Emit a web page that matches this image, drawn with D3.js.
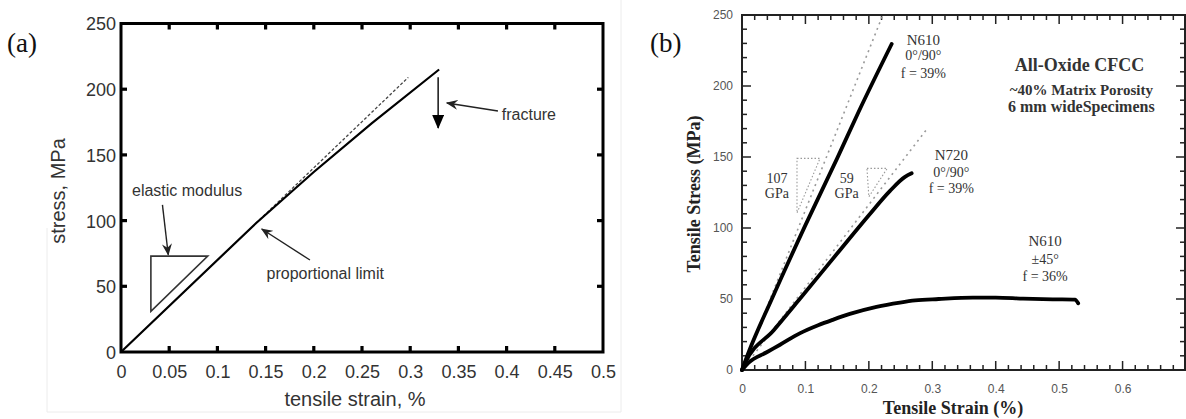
<!DOCTYPE html>
<html>
<head>
<meta charset="utf-8">
<script src="https://cdn.jsdelivr.net/npm/d3@7"></script>
<style>
  html, body { margin: 0; padding: 0; background: #fff; }
  svg { display: block; }
</style>
</head>
<body>
<svg id="chart" width="1186" height="419"></svg>
<script>
// ---------------- DATA ----------------
// Panel (a): idealised stress-strain curve
const aCurveStrain = [0, 0.14, 0.2, 0.26, 0.33];
const aCurveStress = [0, 98, 137, 174, 215];
const aElasticStrain = [0.14, 0.298];
const aElasticStress = [98, 209];
const aTriangleStrain = [0.031, 0.09, 0.031];
const aTriangleStress = [73, 73, 31];
const aXTicks = [0, 0.05, 0.1, 0.15, 0.2, 0.25, 0.3, 0.35, 0.4, 0.45, 0.5];
const aXTickLabels = ["0", "0.05", "0.1", "0.15", "0.2", "0.25", "0.3", "0.35", "0.4", "0.45", "0.5"];
const aYTicks = [0, 50, 100, 150, 200, 250];
const aYTickLabels = ["0", "50", "100", "150", "200", "250"];

// Panel (b): all-oxide CFCC tensile curves
const bN610Strain = [0, 0.01, 0.047, 0.1, 0.15, 0.183, 0.236];
const bN610Stress = [0, 12, 50, 102, 149, 181, 229.6];
const bN720Strain = [0, 0.005, 0.05, 0.091, 0.15, 0.2, 0.233, 0.257, 0.2675];
const bN720Stress = [0, 5, 28, 50, 82, 109, 126, 136, 138.5];
const bN610xStrain = [0, 0.01, 0.039, 0.06, 0.091, 0.12, 0.144, 0.17, 0.212, 0.249, 0.273, 0.31, 0.364, 0.4, 0.443, 0.49, 0.525, 0.53];
const bN610xStress = [0, 5, 12.5, 17.8, 25.8, 31.5, 35.5, 39.5, 44.5, 47.5, 49, 50, 51, 51, 50.3, 49.8, 49.6, 47];
const bRef107Strain = [0, 0.222];
const bRef107Stress = [0, 250];
const bRef59Strain = [0, 0.292];
const bRef59Stress = [0, 170];
const bTri107Strain = [0.0867, 0.123, 0.0867];
const bTri107Stress = [149, 149, 110.6];
const bTri59Strain = [0.197, 0.229, 0.2];
const bTri59Stress = [142, 142, 122];
const bXMajor = [0, 0.1, 0.2, 0.3, 0.4, 0.5, 0.6, 0.7];
const bXTickLabels = ["0", "0.1", "0.2", "0.3", "0.4", "0.5", "0.6", ""];
const bYMajor = [0, 50, 100, 150, 200, 250];
const bYTickLabels = ["0", "50", "100", "150", "200", "250"];

// ---------------- SETUP ----------------
const svg = d3.select("#chart");
const zip = (xs, ys) => xs.map((x, i) => [x, ys[i]]);

// faint panel border of (a)
svg.append("path").attr("d", "M47,228V412H621V0").attr("fill", "none")
  .attr("stroke", "#ececec").attr("stroke-width", 1);

// helper: inward ticks drawn from a scale
function ticksX(g, scale, values, y0, len, color, w) {
  g.append("g").selectAll("line").data(values).join("line")
    .attr("x1", d => scale(d)).attr("x2", d => scale(d))
    .attr("y1", y0).attr("y2", y0 + len)
    .attr("stroke", color).attr("stroke-width", w);
}
function ticksY(g, scale, values, x0, len, color, w) {
  g.append("g").selectAll("line").data(values).join("line")
    .attr("y1", d => scale(d)).attr("y2", d => scale(d))
    .attr("x1", x0).attr("x2", x0 + len)
    .attr("stroke", color).attr("stroke-width", w);
}

// ================= PANEL (a) =================
const xa = d3.scaleLinear().domain([0, 0.5]).range([121, 603]);
const ya = d3.scaleLinear().domain([0, 250]).range([352, 23.5]);
const ga = svg.append("g");
const sansA = "'Liberation Sans', Arial, Helvetica, sans-serif";

ga.append("g").attr("transform", `translate(0,${ya(0)})`)
  .call(d3.axisBottom(xa).tickValues(aXTicks).tickSize(0).tickPadding(13)
    .tickFormat((d, i) => aXTickLabels[i]))
  .call(s => s.select(".domain").remove())
  .call(s => s.selectAll("text").attr("font-family", sansA).attr("font-size", 18).attr("fill", "#333"));
ga.append("g").attr("transform", `translate(${xa(0)},0)`)
  .call(d3.axisLeft(ya).tickValues(aYTicks).tickSize(0).tickPadding(5)
    .tickFormat((d, i) => aYTickLabels[i]))
  .call(s => s.select(".domain").remove())
  .call(s => s.selectAll("text").attr("font-family", sansA).attr("font-size", 18).attr("fill", "#333").attr("dy", "0.36em"));

ga.append("rect").attr("x", xa(0)).attr("y", ya(250))
  .attr("width", xa(0.5) - xa(0)).attr("height", ya(0) - ya(250))
  .attr("fill", "none").attr("stroke", "#000").attr("stroke-width", 3);

const aXInner = aXTicks.slice(1, -1), aYInner = aYTicks.slice(1, -1);
ticksX(ga, xa, aXInner, ya(0), -6, "#000", 3.2);
ticksX(ga, xa, aXInner, ya(250), 6, "#000", 3.2);
ticksY(ga, ya, aYInner, xa(0), 6, "#000", 3.2);
ticksY(ga, ya, aYInner, xa(0.5), -6, "#000", 3.2);

const lineA = d3.line().x(d => xa(d[0])).y(d => ya(d[1]));
ga.append("path").attr("d", lineA(zip(aElasticStrain, aElasticStress)))
  .attr("fill", "none").attr("stroke", "#444").attr("stroke-width", 1.3).attr("stroke-dasharray", "3,2");
ga.append("path").attr("d", lineA(zip(aCurveStrain, aCurveStress)))
  .attr("fill", "none").attr("stroke", "#000").attr("stroke-width", 2.2);
ga.append("path").attr("d", lineA(zip(aTriangleStrain, aTriangleStress)) + "Z")
  .attr("fill", "none").attr("stroke", "#333").attr("stroke-width", 1.6);

// arrow markers
const defs = svg.append("defs");
defs.append("marker").attr("id", "barb").attr("viewBox", "0 0 12 10")
  .attr("refX", 11).attr("refY", 5).attr("markerWidth", 12).attr("markerHeight", 10)
  .attr("markerUnits", "userSpaceOnUse").attr("orient", "auto")
  .append("path").attr("d", "M0,0L12,5L0,10L4,5Z").attr("fill", "#222");
defs.append("marker").attr("id", "tri").attr("viewBox", "0 0 14 12")
  .attr("refX", 13).attr("refY", 6).attr("markerWidth", 14).attr("markerHeight", 12)
  .attr("markerUnits", "userSpaceOnUse").attr("orient", "auto")
  .append("path").attr("d", "M0,0L14,6L0,12Z").attr("fill", "#000");

const aArrows = [
  { from: [0.043, 112], to: [0.049, 74], m: "barb", w: 1.4 },
  { from: [0.196, 70], to: [0.146, 93.6], m: "barb", w: 1.4 },
  { from: [0.391, 183.4], to: [0.338, 189.5], m: "barb", w: 1.4 },
  { from: [0.329, 209], to: [0.329, 170.5], m: "tri", w: 1.6 }
];
aArrows.forEach(a => {
  ga.append("line").attr("x1", xa(a.from[0])).attr("y1", ya(a.from[1]))
    .attr("x2", xa(a.to[0])).attr("y2", ya(a.to[1]))
    .attr("stroke", "#222").attr("stroke-width", a.w).attr("marker-end", `url(#${a.m})`);
});

const aLabels = [
  { t: "elastic modulus", x: 0.0114, y: 118.5 },
  { t: "proportional limit", x: 0.151, y: 55.5 },
  { t: "fracture", x: 0.395, y: 176.5 }
];
aLabels.forEach(l => {
  ga.append("text").attr("x", xa(l.x)).attr("y", ya(l.y)).text(l.t)
    .attr("font-family", sansA).attr("font-size", 16).attr("fill", "#333");
});

ga.append("text").attr("x", 355).attr("y", 406).attr("text-anchor", "middle")
  .attr("font-family", sansA).attr("font-size", 20).attr("fill", "#333").text("tensile strain, %");
ga.append("text").attr("transform", "translate(65,191) rotate(-90)").attr("text-anchor", "middle")
  .attr("font-family", sansA).attr("font-size", 20).attr("fill", "#333").text("stress, MPa");
ga.append("text").attr("x", 7).attr("y", 52)
  .attr("font-family", "'Liberation Serif', 'Times New Roman', serif").attr("font-size", 27).attr("fill", "#111").text("(a)");

// ================= PANEL (b) =================
const xb = d3.scaleLinear().domain([0, 0.7]).range([742, 1186]);
const yb = d3.scaleLinear().domain([0, 250]).range([370, 15]);
const gb = svg.append("g");
const serif = "'Liberation Serif', 'DejaVu Serif', 'Times New Roman', serif";
const sansB = "'Liberation Sans', Arial, sans-serif";

const bXMinor = d3.range(0, 0.7001, 0.02).filter(v => Math.abs(v * 10 - Math.round(v * 10)) > 1e-6);
const bYMinor = d3.range(0, 250.01, 10).filter(v => v % 50 !== 0);
const bRight = xb(0.7) - 1;

gb.append("g").attr("transform", `translate(0,${yb(0)})`)
  .call(d3.axisBottom(xb).tickValues(bXMajor).tickSize(0).tickPadding(14).tickFormat((d, i) => bXTickLabels[i]))
  .call(s => s.select(".domain").remove())
  .call(s => s.selectAll("text").attr("font-family", sansB).attr("font-size", 12).attr("fill", "#555"));
gb.append("g").attr("transform", `translate(${xb(0)},0)`)
  .call(d3.axisLeft(yb).tickValues(bYMajor).tickSize(0).tickPadding(9).tickFormat((d, i) => bYTickLabels[i]))
  .call(s => s.select(".domain").remove())
  .call(s => s.selectAll("text").attr("font-family", sansB).attr("font-size", 12).attr("fill", "#555"));

gb.append("rect").attr("x", xb(0)).attr("y", yb(250))
  .attr("width", bRight - xb(0)).attr("height", yb(0) - yb(250))
  .attr("fill", "none").attr("stroke", "#222").attr("stroke-width", 2);

ticksX(gb, xb, bXMinor, yb(0), -5, "#222", 1.5);
ticksX(gb, xb, bXMinor, yb(250), 5, "#222", 1.5);
ticksX(gb, xb, bXMajor, yb(0), -9, "#222", 1.5);
ticksX(gb, xb, bXMajor, yb(250), 9, "#222", 1.5);
ticksY(gb, yb, bYMinor, xb(0), 5, "#222", 1.5);
ticksY(gb, yb, bYMinor, bRight, -5, "#222", 1.5);
ticksY(gb, yb, bYMajor, xb(0), 9, "#222", 1.5);
ticksY(gb, yb, bYMajor, bRight, -9, "#222", 1.5);

const lineB = d3.line().x(d => xb(d[0])).y(d => yb(d[1]));
const curveB = d3.line().x(d => xb(d[0])).y(d => yb(d[1])).curve(d3.curveMonotoneX);

// reference (dotted) lines and triangles
[[bRef107Strain, bRef107Stress], [bRef59Strain, bRef59Stress]].forEach(([xs, ys]) => {
  gb.append("path").attr("d", lineB(zip(xs, ys))).attr("fill", "none")
    .attr("stroke", "#9a9a9a").attr("stroke-width", 1.6).attr("stroke-dasharray", "2,4");
});
[[bTri107Strain, bTri107Stress], [bTri59Strain, bTri59Stress]].forEach(([xs, ys]) => {
  gb.append("path").attr("d", lineB(zip(xs, ys)) + "Z").attr("fill", "none")
    .attr("stroke", "#999").attr("stroke-width", 1.1).attr("stroke-dasharray", "1.5,2");
});

// curves
[[bN610Strain, bN610Stress], [bN720Strain, bN720Stress], [bN610xStrain, bN610xStress]].forEach(([xs, ys]) => {
  gb.append("path").attr("d", curveB(zip(xs, ys))).attr("fill", "none")
    .attr("stroke", "#000").attr("stroke-width", 3.8).attr("stroke-linecap", "round").attr("stroke-linejoin", "round");
});

// annotations
const bLabels = [
  { lines: ["N610", "0°/90°", "f = 39%"], x: 0.286, y: [229, 218.5, 205.5], size: [15, 14, 14], bold: [false, false, false] },
  { lines: ["N720", "0°/90°", "f = 39%"], x: 0.330, y: [147.8, 136, 124.6], size: [15, 14, 14], bold: [false, false, false] },
  { lines: ["N610", "±45°", "f = 36%"], x: 0.478, y: [87.3, 75, 63], size: [15, 14, 14], bold: [false, false, false] },
  { lines: ["107", "GPa"], x: 0.055, y: [131.6, 121], size: [14, 14], bold: [false, false] },
  { lines: ["59", "GPa"], x: 0.165, y: [131.6, 121], size: [14, 14], bold: [false, false] },
  { lines: ["All-Oxide CFCC"], x: 0.532, y: [210.6], size: [18], bold: [true] },
  { lines: ["~40% Matrix Porosity", "6 mm wideSpecimens"], x: 0.535, y: [193.7, 181.7], size: [15, 16], bold: [true, true] }
];
bLabels.forEach(l => {
  l.lines.forEach((t, i) => {
    gb.append("text").attr("x", xb(l.x)).attr("y", yb(l.y[i])).attr("text-anchor", "middle")
      .attr("font-family", serif).attr("font-size", l.size[i])
      .attr("font-weight", l.bold[i] ? "bold" : "normal").attr("fill", "#333").text(t);
  });
});

gb.append("text").attr("x", 953).attr("y", 414).attr("text-anchor", "middle")
  .attr("font-family", serif).attr("font-size", 18).attr("font-weight", "bold").attr("fill", "#222").text("Tensile Strain (%)");
gb.append("text").attr("transform", "translate(700,194) rotate(-90)").attr("text-anchor", "middle")
  .attr("font-family", serif).attr("font-size", 18).attr("font-weight", "bold").attr("fill", "#222").text("Tensile Stress (MPa)");
gb.append("text").attr("x", 650).attr("y", 52)
  .attr("font-family", serif).attr("font-size", 27).attr("fill", "#111").text("(b)");
</script>
</body>
</html>
